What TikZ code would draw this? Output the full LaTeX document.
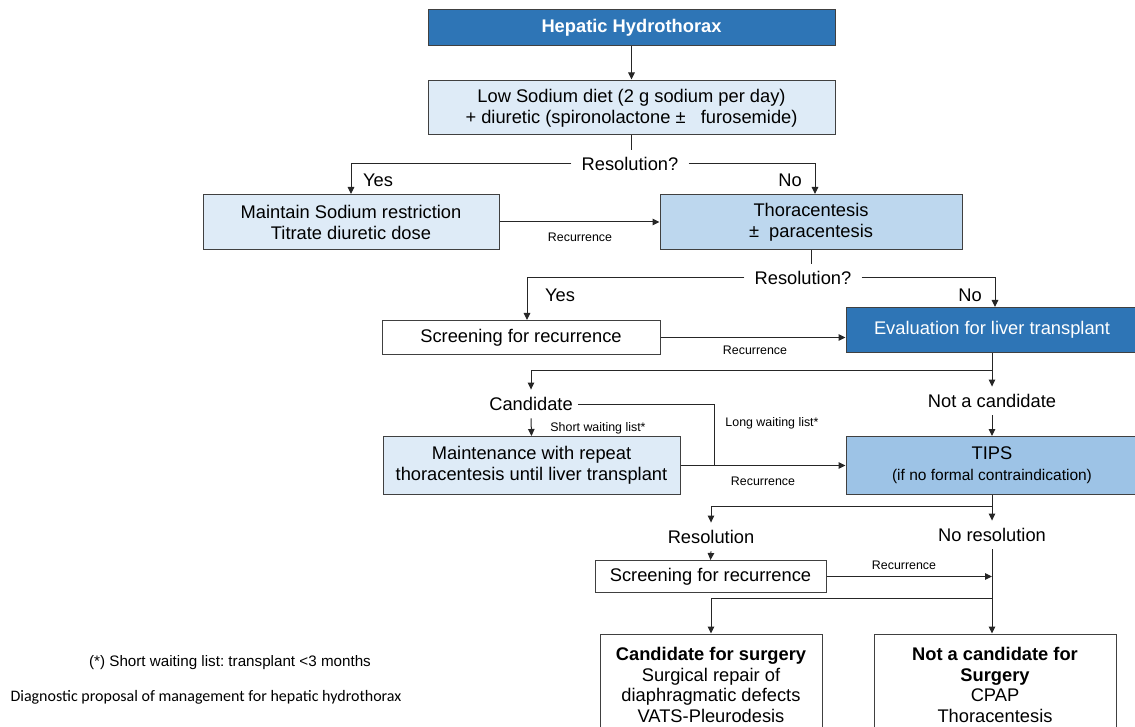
\documentclass[tikz,border=0pt]{standalone}
\usepackage{fontspec}
\setmainfont{Liberation Sans}
\newfontfamily\capfont{Carlito}
\usepackage{xcolor}
\usetikzlibrary{arrows.meta,positioning}

\definecolor{darkblue}{RGB}{46,117,182}
\definecolor{paleblue}{RGB}{222,235,247}
\definecolor{midblue}{RGB}{189,215,238}
\definecolor{tipsblue}{RGB}{157,195,230}

\begin{document}
\begin{tikzpicture}[x=1pt,y=-1pt,
  box/.style={rectangle,draw=black!75,line width=1pt,align=center,inner sep=2pt,font=\fontsize{18.3}{21}\selectfont},
  tag/.style={inner sep=2pt,font=\fontsize{18.3}{20}\selectfont},
  ask/.style={tag,inner xsep=10pt,inner ysep=7.5pt},
  note/.style={inner sep=1pt,font=\fontsize{12.4}{14}\selectfont},
  arrow/.style={-{Triangle[length=7pt,width=6.5pt]},line width=1pt,draw=black!85},
  link/.style={line width=1pt,draw=black!85}
]
  \clip (0,0) rectangle (1135,727);

  % top: diet
  \node[box,fill=darkblue,text=white,font=\bfseries\fontsize{18.3}{21}\selectfont,minimum width=407pt,minimum height=36pt] (hh) at (631.5,28) {Hepatic Hydrothorax};
  \node[box,fill=paleblue,minimum width=407pt,minimum height=54pt] (diet) at (631.5,108) {Low Sodium diet (2 g sodium per day)\\+ diuretic (spironolactone ±\ \ \ furosemide)};
  \draw[arrow] (hh) -- ([yshift=1pt]diet.north);

  \node[ask] (res1) at (630,164) {Resolution?};
  \node[tag] (yes1) at (378,180) {Yes};
  \node[tag] (no1) at (790,180) {No};
  \node[box,fill=paleblue,minimum width=296pt,minimum height=55pt] (maint) at (351,222) {Maintain Sodium restriction\\Titrate diuretic dose};
  \node[box,fill=midblue,minimum width=302pt,minimum height=55pt] (thora) at (811,222) {Thoracentesis\\±\ \ paracentesis};
  \node[note] (rec1) at (580,237) {Recurrence};

  \draw[link] (diet.south) -- (diet.south |- res1.north);
  \draw[arrow] (res1.west) -| (maint.north);
  \draw[arrow] (res1.east) -| ([xshift=4pt]thora.north);
  \draw[arrow] (maint.east) -- (thora.west);

  % thoracentesis
  \node[ask] (res2) at (803,278) {Resolution?};
  \node[tag] (yes2) at (560,295) {Yes};
  \node[tag] (no2) at (970,295) {No};
  \node[box,fill=white,minimum width=278pt,minimum height=34pt] (scr1) at (521,337.5) {Screening for recurrence};
  \node[box,fill=darkblue,text=white,minimum width=292pt,minimum height=45pt] (evalt) at (992,330) {Evaluation for liver transplant};
  \node[note] (rec2) at (755,350) {Recurrence};

  \draw[link] (thora.south) -- (thora.south |- res2.north);
  \draw[arrow] (res2.west) -| ([xshift=6pt]scr1.north);
  \draw[arrow] (res2.east) -| ([xshift=3pt]evalt.north);
  \draw[arrow] (scr1.east) -- (scr1.east -| evalt.west);

  % transplant evaluation
  \coordinate (split1) at (992,370);
  \node[ask,inner xsep=5pt] (cand) at (531,404) {Candidate};
  \node[ask] (ncand) at (992,401) {Not a candidate};
  \node[box,fill=paleblue,minimum width=297pt,minimum height=58pt] (wait) at (531.5,465.5) {Maintenance with repeat\\thoracentesis until liver transplant};
  \node[box,fill=tipsblue,minimum width=292pt,minimum height=58pt] (tips) at (992,465.5) {TIPS\\{\fontsize{15.5}{18}\selectfont(if no formal contraindication)}};
  \node[note] (short) at (598,428) {Short waiting list*};
  \node[note] (long) at (772,423) {Long waiting list*};
  \node[note] (rec3) at (763,481) {Recurrence};
  \coordinate (bend) at (714,465.5);

  \draw[link] (evalt.south) -- (split1);
  \draw[arrow] (split1) -| (cand.north);
  \draw[arrow] (split1) -- (ncand.north);
  \draw[arrow] (cand.south) -- (wait.north);
  \draw[arrow] (ncand.south) -- (tips.north);
  \draw[link] (cand.east) -| (bend);
  \draw[arrow] (wait.east) -- (tips.west);

  % TIPS outcome
  \coordinate (split2) at (992,506);
  \node[ask] (resol) at (711,537) {Resolution};
  \node[ask] (nres) at (992,535) {No resolution};
  \node[box,fill=white,minimum width=231pt,minimum height=32pt] (scr2) at (710.5,576.5) {Screening for recurrence};
  \node[note] (rec4) at (904,565) {Recurrence};
  \coordinate (split3) at (992,598);
  \node[box,fill=white,font=\fontsize{18.3}{20.5}\selectfont,minimum width=222pt,minimum height=102pt] (surg) at (711,685) {\textbf{Candidate for surgery}\\Surgical repair of\\diaphragmatic defects\\VATS-Pleurodesis};
  \node[box,fill=white,font=\fontsize{18.3}{20.5}\selectfont,minimum width=242pt,minimum height=102pt] (nsurg) at (995,685) {\textbf{Not a candidate for}\\\textbf{Surgery}\\CPAP\\Thoracentesis};

  \draw[link] (tips.south) -- (split2);
  \draw[arrow] (split2) -| (resol.north);
  \draw[arrow] (split2) -- (nres.north);
  \draw[arrow] (resol.south) -- (scr2.north);
  \draw[arrow] (scr2.east) -- (scr2.east -| nres.south);
  \draw[arrow] (nres.south) -- (nres.south |- nsurg.north);
  \draw[arrow] (split3) -| (surg.north);

  % notes
  \node[inner sep=0pt,font=\fontsize{15.2}{17}\selectfont] (foot) at (230,663) {(*) Short waiting list:\ transplant <3 months};
  \node[inner sep=0pt,font=\capfont\fontsize{16}{18}\selectfont] (capt) at (206,697) {Diagnostic proposal of management for hepatic hydrothorax};
\end{tikzpicture}
\end{document}
